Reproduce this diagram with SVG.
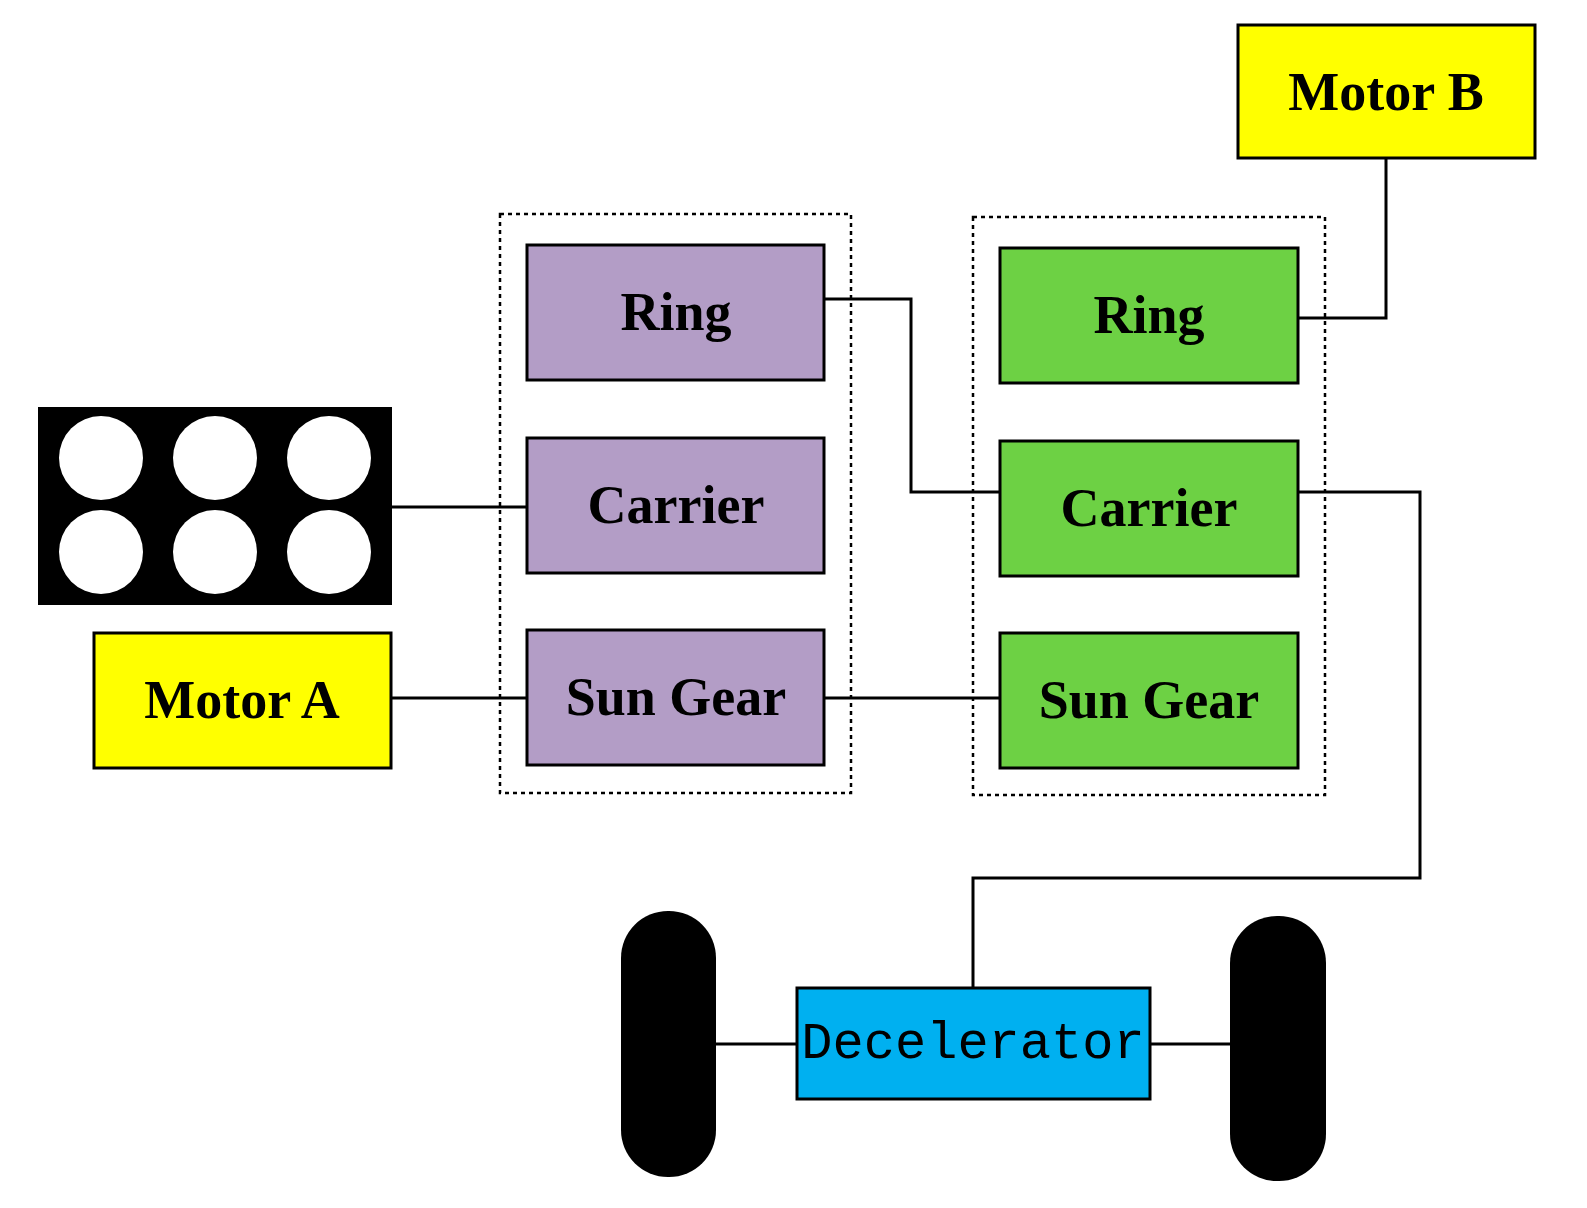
<svg xmlns="http://www.w3.org/2000/svg" width="1587" height="1208" viewBox="0 0 1587 1208">
<style>
.b{stroke:#000;stroke-width:3}
.t{font-family:"Liberation Serif",serif;font-weight:bold;font-size:54px;text-anchor:middle;dominant-baseline:central}
.m{font-family:"Liberation Mono",monospace;font-size:52px;text-anchor:middle;dominant-baseline:central}
.p{fill:#b39dc6}.g{fill:#6dd144}.y{fill:#ffff00}
.d{fill:none;stroke:#000;stroke-width:2.5;stroke-dasharray:4 4}
.c{fill:none;stroke:#000;stroke-width:3}
</style>
<rect width="1587" height="1208" fill="#fff"/>
<g id="groups"><rect class="d" x="500" y="214" width="351" height="579"/><rect class="d" x="973" y="217" width="352" height="578"/></g>
<g id="connectors">
<path class="c" d="M392 507H527M391 698H527M824 698H1000M824 299H911V492H1000M1386 158V318H1298M1298 492H1420V878H973V988M716 1044H797M1150 1044H1230"/>
</g>
<g id="motorB"><rect class="b y" x="1238" y="25" width="297" height="133"/><text class="t" x="1386" y="92">Motor B</text></g>
<g id="ring1"><rect class="b p" x="527" y="245" width="297" height="135"/><text class="t" x="676" y="312">Ring</text></g>
<g id="carrier1"><rect class="b p" x="527" y="438" width="297" height="135"/><text class="t" x="676" y="505">Carrier</text></g>
<g id="sun1"><rect class="b p" x="527" y="630" width="297" height="135"/><text class="t" x="676" y="697">Sun Gear</text></g>
<g id="ring2"><rect class="b g" x="1000" y="248" width="298" height="135"/><text class="t" x="1149" y="315">Ring</text></g>
<g id="carrier2"><rect class="b g" x="1000" y="441" width="298" height="135"/><text class="t" x="1149" y="508">Carrier</text></g>
<g id="sun2"><rect class="b g" x="1000" y="633" width="298" height="135"/><text class="t" x="1149" y="700">Sun Gear</text></g>
<g id="engine"><rect x="38" y="407" width="354" height="198" fill="#000"/>
<g fill="#fff"><circle cx="101" cy="458" r="42"/><circle cx="215" cy="458" r="42"/><circle cx="329" cy="458" r="42"/><circle cx="101" cy="552" r="42"/><circle cx="215" cy="552" r="42"/><circle cx="329" cy="552" r="42"/></g></g>
<g id="motorA"><rect class="b y" x="94" y="633" width="297" height="135"/><text class="t" x="242" y="700">Motor A</text></g>
<g id="decelerator"><rect class="b" fill="#00b0f0" x="797" y="988" width="353" height="111"/><text class="m" x="973" y="1044">Decelerator</text></g>
<g id="wheelL"><rect x="621" y="911" width="95" height="266" rx="47" fill="#000"/></g>
<g id="wheelR"><rect x="1230" y="916" width="96" height="265" rx="47" fill="#000"/></g>
</svg>
